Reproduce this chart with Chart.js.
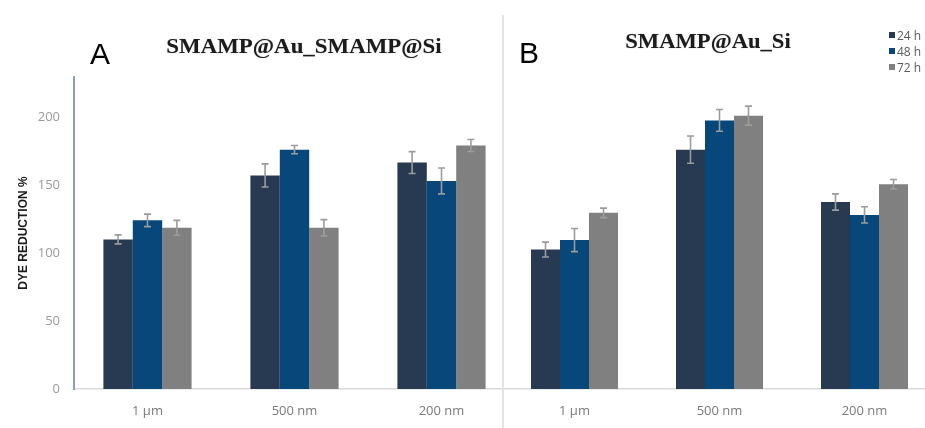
<!DOCTYPE html>
<html>
<head>
<meta charset="utf-8">
<script src="https://cdn.jsdelivr.net/npm/chart.js@4.4.1/dist/chart.umd.min.js"></script>
<style>
  html, body { margin:0; padding:0; background:#fff; }
  body { width:925px; height:428px; overflow:hidden; position:relative; }
  .abs { position:absolute; }
  #wrapA { left:0; top:0; width:515px; height:428px; }
  #wrapB { left:502px; top:0; width:435px; height:428px; background:#fff; }
  #divider { left:502px; top:15px; width:1.5px; height:413px; background:#e3e3e3; }
  .letter { font-family:"Liberation Sans", Arial, sans-serif; font-size:30px; line-height:30px; color:#000; }
  .ptitle { font-family:"Liberation Serif", "Times New Roman", serif; font-weight:bold; color:#1c1c1c; line-height:1; white-space:nowrap; text-shadow:0 0 1px rgba(0,0,0,0.35); }
  #legend { left:889px; top:27px; font-family:"Open Sans", sans-serif; font-size:12px; color:#5a5a5a; }
  #legend .row { height:16px; display:flex; align-items:center; white-space:nowrap; }
  #legend .sw { width:6px; height:6px; margin-right:2px; }
</style>
</head>
<body>
<div id="wrapA" class="abs"><canvas id="chartA" width="515" height="428"></canvas></div>
<div id="wrapB" class="abs"><canvas id="chartB" width="435" height="428"></canvas></div>
<div id="divider" class="abs"></div>
<div class="abs letter" style="left:90px; top:38.6px;">A</div>
<div class="abs letter" style="left:519px; top:38px;">B</div>
<div id="titleA" class="abs ptitle" style="font-size:21px; left:303.5px; top:35.7px; transform:translateX(-50%) scaleX(1.09);">SMAMP@Au_SMAMP@Si</div>
<div id="titleB" class="abs ptitle" style="font-size:20px; left:708px; top:30.5px; transform:translateX(-50%) scaleX(1.13);">SMAMP@Au_Si</div>
<div id="legend" class="abs"></div>
<script>
// ---- data ----
const categories = ['1 µm', '500 nm', '200 nm'];
const seriesNames = ['24 h', '48 h', '72 h'];
const seriesColors = ['#283a52', '#07477a', '#808080'];
const yTicks = [0, 50, 100, 150, 200];

// Panel A: SMAMP@Au_SMAMP@Si
const a24 = [110, 157, 166.5];
const a48 = [124, 176, 153];
const a72 = [118.5, 118.5, 179];
const a24err = [3.3, 8.5, 8];
const a48err = [4.6, 3, 9.5];
const a72err = [5.5, 6, 4.4];

// Panel B: SMAMP@Au_Si
const b24 = [102.5, 176, 137.5];
const b48 = [109.5, 197.5, 128];
const b72 = [129.5, 201, 150.5];
const b24err = [5.5, 10, 6];
const b48err = [8.5, 8, 6];
const b72err = [3.5, 7, 3.5];

const yMax = 229.4;

Chart.defaults.font.family = '"Open Sans", sans-serif';
Chart.defaults.animation = false;

const errorBarPlugin = {
  id: 'errorBars',
  afterDatasetsDraw(chart) {
    const ctx = chart.ctx;
    const y = chart.scales.y;
    ctx.save();
    ctx.strokeStyle = '#9c9c9c';
    ctx.lineWidth = 1.6;
    chart.data.datasets.forEach((ds, i) => {
      const meta = chart.getDatasetMeta(i);
      meta.data.forEach((el, j) => {
        const v = ds.data[j], e = ds.errors[j];
        const yt = y.getPixelForValue(v + e);
        const yb = y.getPixelForValue(v - e);
        const x = el.x, cw = 3.5;
        ctx.beginPath();
        ctx.moveTo(x, yt); ctx.lineTo(x, yb);
        ctx.moveTo(x - cw, yt); ctx.lineTo(x + cw, yt);
        ctx.moveTo(x - cw, yb); ctx.lineTo(x + cw, yb);
        ctx.stroke();
      });
    });
    ctx.restore();
  }
};

function makeDatasets(vals, errs) {
  return vals.map((v, i) => ({
    label: seriesNames[i],
    data: v,
    errors: errs[i],
    backgroundColor: seriesColors[i],
    borderWidth: 0,
    categoryPercentage: 0.6,
    barPercentage: 1.0
  }));
}

function makeChart(id, datasets, showY) {
  return new Chart(document.getElementById(id), {
    type: 'bar',
    data: { labels: categories, datasets },
    plugins: [errorBarPlugin],
    options: {
      responsive: false,
      layout: { padding: { top: 77, right: 0, bottom: 0, left: 0 } },
      plugins: { legend: { display: false }, tooltip: { enabled: false } },
      scales: {
        x: {
          grid: { display: false },
          border: { display: true, color: '#d9d9d9', width: 1.5 },
          ticks: { color: '#7a7a7a', font: { size: 13 }, padding: 6, maxRotation: 0 },
          afterFit(s) { s.height = 39; }
        },
        y: {
          display: showY,
          min: 0, max: yMax,
          grid: { display: false },
          border: { display: true, color: '#8d9db4', width: 2 },
          afterBuildTicks(s) { s.ticks = yTicks.map(v => ({ value: v })); },
          ticks: { color: '#9a9a9a', font: { size: 13 }, padding: 6 },
          title: {
            display: true, text: 'DYE REDUCTION %', color: '#1a1a1a',
            font: { size: 12, weight: 'bold', family: '"Liberation Sans", Arial, sans-serif' },
            padding: { top: 16, bottom: 0 }
          },
          afterFit(s) { s.width = showY ? 74 : 0; }
        }
      }
    }
  });
}

makeChart('chartA', makeDatasets([a24, a48, a72], [a24err, a48err, a72err]), true);
makeChart('chartB', makeDatasets([b24, b48, b72], [b24err, b48err, b72err]), false);

// legend built from the series
const legend = document.getElementById('legend');
seriesNames.forEach((n, i) => {
  const row = document.createElement('div');
  row.className = 'row';
  const sw = document.createElement('span');
  sw.className = 'sw';
  sw.style.background = seriesColors[i];
  const t = document.createElement('span');
  t.textContent = n;
  row.appendChild(sw); row.appendChild(t);
  legend.appendChild(row);
});
</script>
</body>
</html>
